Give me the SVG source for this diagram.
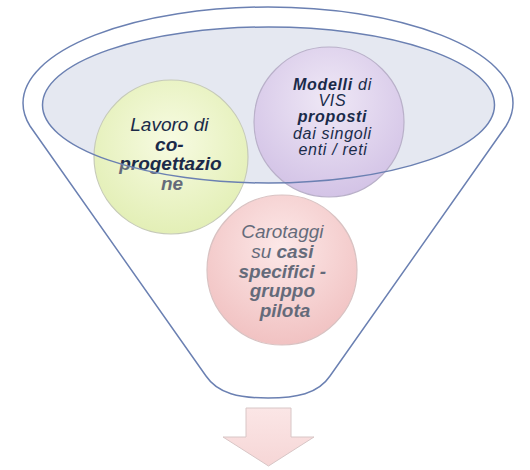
<svg xmlns="http://www.w3.org/2000/svg" width="530" height="470" viewBox="0 0 530 470">
  <defs>
    <radialGradient id="gGreen" cx="50%" cy="40%" r="60%">
      <stop offset="0" stop-color="#f7fbe2"/>
      <stop offset="1" stop-color="#e3efb6"/>
    </radialGradient>
    <radialGradient id="gPurple" cx="50%" cy="35%" r="65%">
      <stop offset="0" stop-color="#efe8f6"/>
      <stop offset="1" stop-color="#d3c3e6"/>
    </radialGradient>
    <radialGradient id="gPink" cx="50%" cy="35%" r="65%">
      <stop offset="0" stop-color="#fce8e8"/>
      <stop offset="1" stop-color="#f1c2c2"/>
    </radialGradient>
    <linearGradient id="gArrow" x1="0" y1="0" x2="0" y2="1">
      <stop offset="0" stop-color="#fbe6e6"/>
      <stop offset="1" stop-color="#f6d6d6"/>
    </linearGradient>
    <radialGradient id="gText" gradientUnits="userSpaceOnUse" cx="0" cy="0" r="1" gradientTransform="translate(268.5 105) scale(226 78)">
      <stop offset="0" stop-color="#1c2948"/>
      <stop offset="0.985" stop-color="#1c2948"/>
      <stop offset="1" stop-color="#646a7a"/>
    </radialGradient>
    <style>
      .rim { fill: none; stroke: #6b80b2; stroke-width: 1.5; }
      .disc { stroke-width: 1.2; }
      .lbl { font-family: "Liberation Sans", Arial, sans-serif; font-style: italic; text-anchor: middle; fill: url(#gText); }
      .b { font-weight: bold; }
    </style>
  </defs>

  <g id="funnel">
    <path class="rim" d="M 23,103 A 245 96 0 0 1 513,103 C 513,112 511,118 506,126 L 330,376 C 318,394 296,398 268,398 C 240,398 218,394 206,376 L 30,126 C 25,118 23,112 23,103 Z"/>
    <ellipse cx="268.5" cy="105" rx="226" ry="78" fill="#e2e5ef" fill-opacity="0.9"/>
  </g>

  <g id="node-coprogettazione">
    <circle class="disc" cx="171" cy="157" r="77" fill="url(#gGreen)" stroke="#c6cab8"/>
    <text class="lbl" font-size="19">
      <tspan x="172" y="131">Lavoro di</tspan>
      <tspan x="172" y="151" class="b">co-</tspan>
      <tspan x="173" y="170" class="b">progettazio</tspan>
      <tspan x="172" y="190" class="b">ne</tspan>
    </text>
  </g>

  <g id="node-modelli">
    <circle class="disc" cx="329" cy="122" r="75" fill="url(#gPurple)" stroke="#b9b0c9"/>
    <text class="lbl" font-size="16" letter-spacing="0.7">
      <tspan x="335" y="90"><tspan class="b">Modelli</tspan> di</tspan>
      <tspan x="335" y="106.2">VIS</tspan>
      <tspan x="335" y="122.4" class="b">proposti</tspan>
      <tspan x="335" y="138.6">dai  singoli</tspan>
      <tspan x="333" y="154.8">enti / reti</tspan>
    </text>
  </g>

  <g id="node-carotaggi">
    <circle class="disc" cx="282" cy="270" r="75" fill="url(#gPink)" stroke="#d9c2c2"/>
    <text class="lbl" font-size="19">
      <tspan x="285" y="238">Carotaggi</tspan>
      <tspan x="285" y="258">su <tspan class="b">casi</tspan></tspan>
      <tspan x="285" y="278" class="b">specifici -</tspan>
      <tspan x="285" y="297" class="b">gruppo</tspan>
      <tspan x="285" y="317" class="b">pilota</tspan>
    </text>
  </g>

  <g id="funnel-rim">
    <ellipse class="rim" cx="268.5" cy="105" rx="226" ry="78"/>
  </g>

  <g id="connectors">
    <path d="M 246,408 L 291,408 L 291,437 L 314,437 L 268.5,466 L 223,437 L 246,437 Z" fill="url(#gArrow)" stroke="#d8c6c6" stroke-width="1"/>
  </g>
</svg>
